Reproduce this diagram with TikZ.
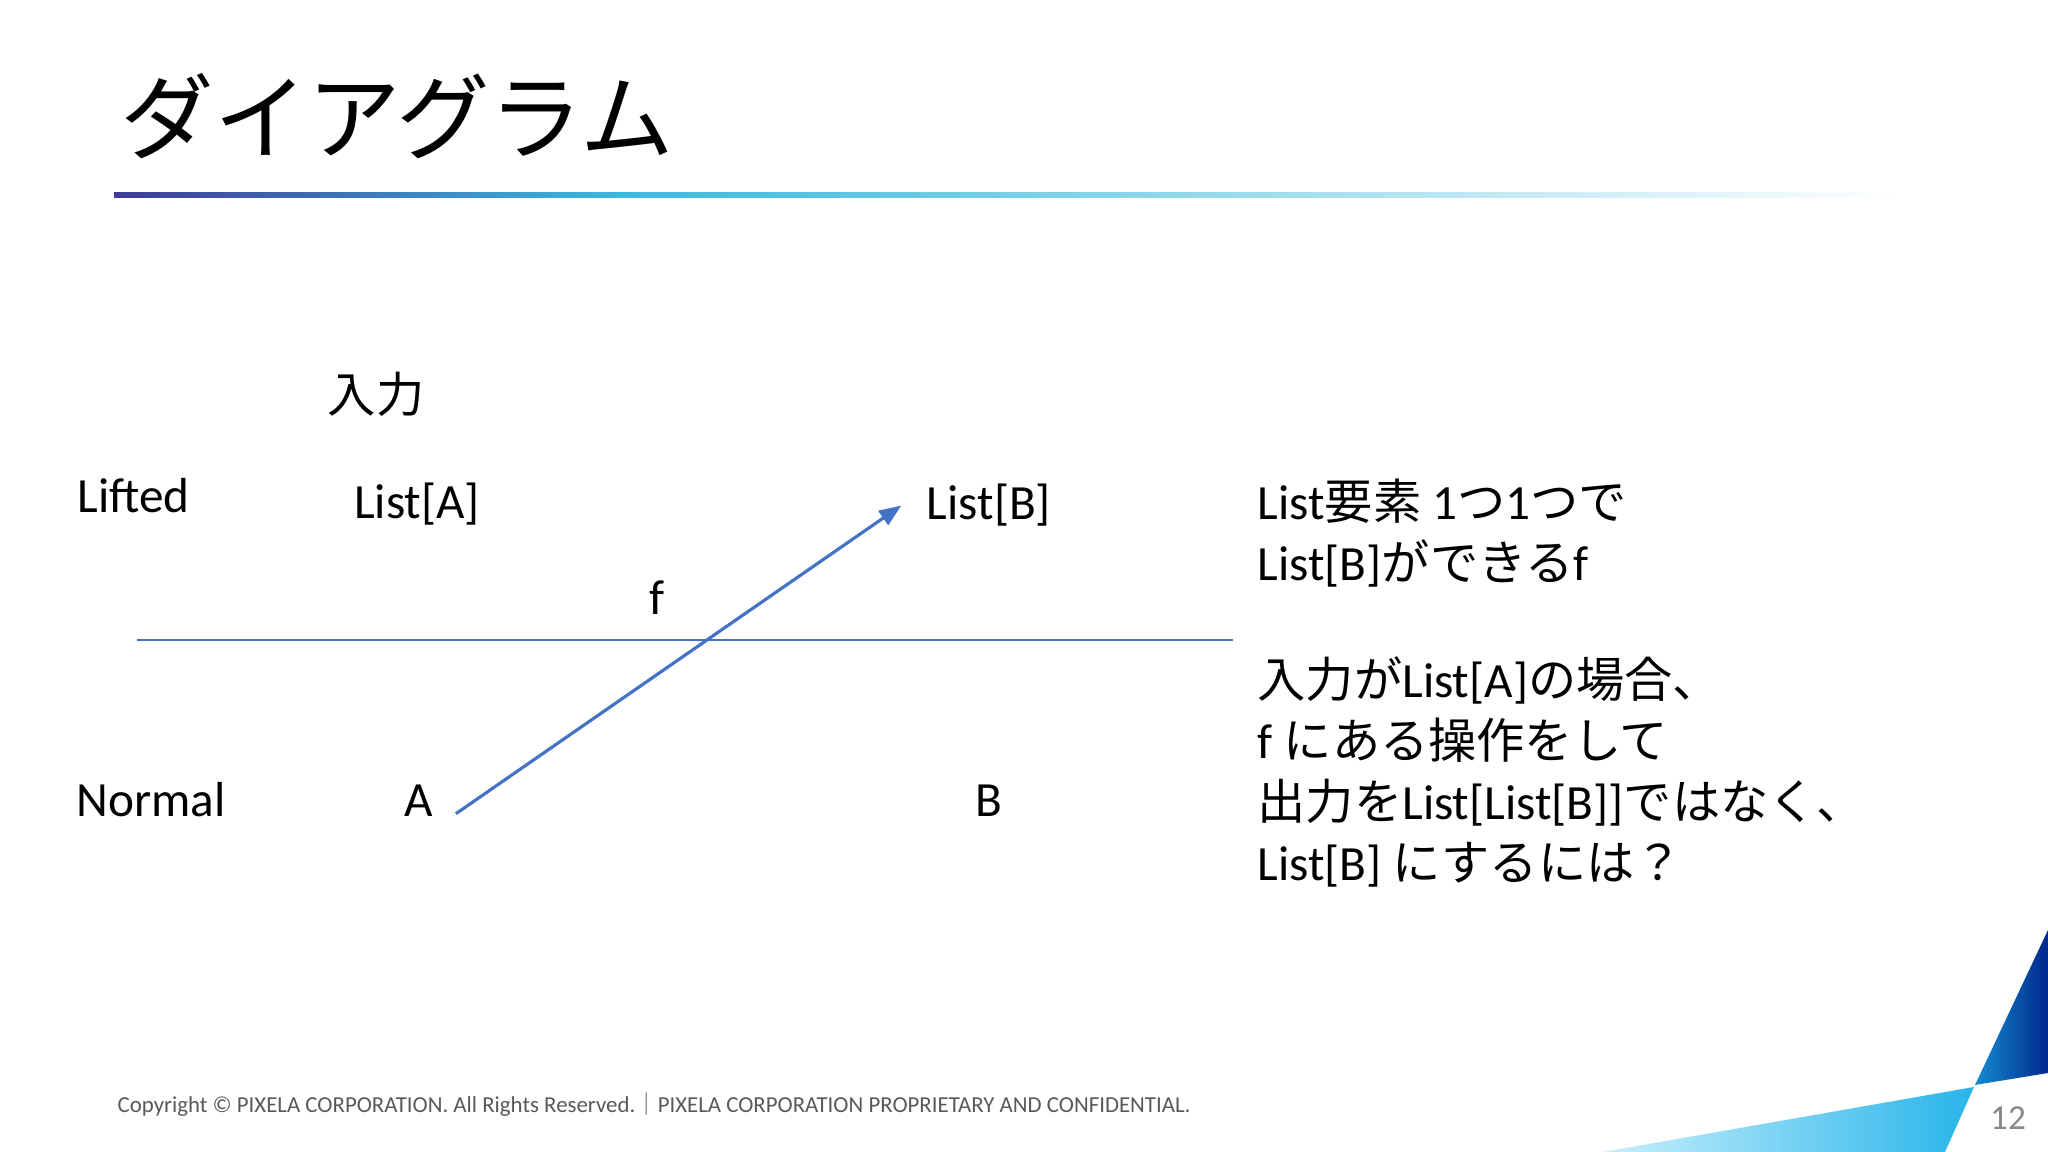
\documentclass[tikz,border=0pt]{standalone}
\usepackage{fontspec}
\setmainfont{Carlito}
\newfontfamily\jpfont{Noto Sans CJK JP}[Scale=0.98]
\newfontfamily\titlefont{Noto Sans CJK JP}
\newcommand{\ja}[1]{{\jpfont #1}}
\usetikzlibrary{arrows.meta}

\definecolor{lineblue}{RGB}{68,114,196}
\definecolor{ruledark}{RGB}{62,58,150}
\definecolor{rulecyan}{RGB}{60,185,220}
\definecolor{footgray}{RGB}{89,89,89}
\definecolor{pagegray}{RGB}{137,137,137}
\definecolor{cornerlight}{RGB}{200,240,252}
\definecolor{cornermid}{RGB}{40,180,235}
\definecolor{cornerblue}{RGB}{20,140,210}
\definecolor{cornerdark}{RGB}{0,40,140}

\tikzset{
  lbl/.style={font=\fontsize{14}{17}\selectfont, inner sep=0pt, anchor=base},
  note/.style={lbl, anchor=base west},
  farrow/.style={lineblue, line width=0.9pt, -{Triangle[length=2.2mm,width=1.7mm]}},
  divider/.style={lineblue, line width=0.5pt},
}

\begin{document}
\begin{tikzpicture}
	\useasboundingbox (0,0) rectangle (20.48,11.52);
	\fill[white] (0,0) rectangle (20.48,11.52);
	
	% slide decoration
	\shade[left color=ruledark, right color=rulecyan] (1.14,9.54) rectangle (6.2,9.59);
	\shade[left color=rulecyan, right color=white] (6.2,9.54) rectangle (19.0,9.59);
	\shade[left color=cornerblue, right color=cornerdark] (20.48,2.22) -- (19.75,0.67) -- (20.48,0.79) -- cycle;
	\shade[left color=cornerlight, right color=cornermid] (19.74,0.65) -- (16.03,0) -- (19.45,0) -- cycle;
	
	\node[anchor=base west, inner sep=0pt, font={\titlefont\fontsize{26.6}{30}\selectfont}] (title) at (1.20,9.99) {ダイアグラム};
	
	\node[lbl] (input) at (3.76,7.39) {\ja{入力}};
	\node[note] (lifted) at (0.77,6.39) {Lifted};
	\node[note] (normal) at (0.76,3.35) {Normal};
	\node[lbl] (LA) at (4.17,6.33) {List[A]};
	\node[lbl] (LB) at (9.89,6.32) {List[B]};
	\node[lbl] (fl) at (6.57,5.37) {f};
	\node[lbl] (A) at (4.19,3.35) {A};
	\node[lbl] (B) at (9.89,3.35) {B};
	
	\coordinate (liftL) at (1.37,5.12);
	\coordinate (liftR) at (12.33,5.12);
	\draw[divider] (liftL) -- (liftR);
	\draw[farrow] ([shift={(0.22,0.04)}]A.south east) -- ([xshift=-0.25cm]LB.west);
	
	\node[note] (note1) at (12.57,6.32) {List\ja{要素} 1\ja{つ}1\ja{つで}};
	\node[note] (note2) at (12.57,5.71) {List[B]\ja{ができる}f};
	\node[note] (note3) at (12.57,4.54) {\ja{入力が}List[A]\ja{の場合、}};
	\node[note] (note4) at (12.57,3.93) {f \ja{にある操作をして}};
	\node[note] (note5) at (12.57,3.32) {\ja{出力を}List[List[B]]\ja{ではなく、}};
	\node[note] (note6) at (12.57,2.71) {List[B] \ja{にするには？}};
	
	\node[anchor=base west, inner sep=0pt, text=footgray, font=\fontsize{6.5}{8}\selectfont] (foot) at (1.17,0.39) {Copyright © PIXELA CORPORATION. All Rights Reserved.\ja{｜}PIXELA CORPORATION PROPRIETARY AND CONFIDENTIAL.};
	\node[anchor=base, inner sep=0pt, text=pagegray, font=\fontsize{10}{12}\selectfont] (page) at (20.08,0.22) {12};
\end{tikzpicture}
\end{document}
